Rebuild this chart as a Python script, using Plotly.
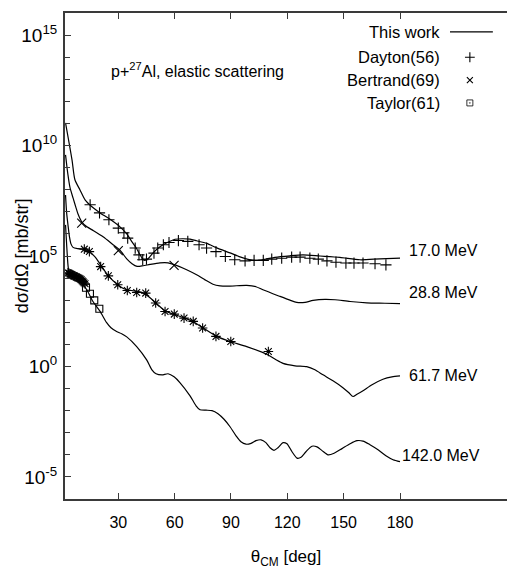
import numpy as np
import plotly.graph_objects as go

# ---------------- data (angle in deg, log10 of dσ/dΩ in mb/sr) ----------------
th_17 = [1.9, 5.35, 6.9, 9.6, 12.3, 15.8, 20.3, 25.6, 30.9, 34.5, 37.1, 39.8, 41.6, 43.7, 45.8,
         48.5, 52.2, 55.8, 60.2, 64.5, 68.2, 71.7, 77.1, 82.4, 89.5, 94.8, 99.1, 103.7, 108.1,
         113.4, 121.4, 128.3, 137.4, 148.0, 158.7, 169.3, 180.0]
lg_17 = [11.03, 9.35, 8.45, 7.99, 7.54, 7.24, 6.95, 6.66, 6.32, 6.00, 5.66, 5.33, 5.05, 4.81, 4.87,
         5.14, 5.42, 5.60, 5.76, 5.78, 5.76, 5.69, 5.57, 5.37, 5.14, 4.96, 4.85, 4.80, 4.85,
         4.94, 5.01, 5.05, 5.00, 4.94, 4.83, 4.87, 4.90]

th_28 = [1.9, 3.2, 4.3, 5.9, 7.5, 8.5, 10.5, 13.3, 16.5, 21.9, 27.2, 30.9, 34.5, 37.3, 40.0, 43.2,
         46.9, 52.2, 56.5, 60.2, 66.4, 71.7, 76.2, 80.4, 84.2, 89.5, 98.4, 103.3, 107.0, 116.1,
         121.4, 125.0, 129.4, 133.7, 140.1, 145.4, 153.4, 162.3, 172.0, 180.0]
lg_28 = [9.58, 8.67, 8.09, 7.63, 7.18, 6.91, 6.55, 6.32, 6.16, 5.87, 5.51, 5.26, 4.87, 4.65, 4.53, 4.56,
         4.62, 4.69, 4.69, 4.60, 4.38, 4.15, 3.92, 3.72, 3.65, 3.64, 3.67, 3.61, 3.47, 3.17,
         3.00, 2.90, 2.90, 2.99, 3.04, 3.02, 2.94, 2.88, 2.86, 2.84]

th_61 = [1.9, 2.5, 3.2, 4.0, 4.8, 5.9, 8.5, 11.9, 14.6, 17.6, 20.6, 24.7, 29.7, 33.0, 36.2, 40.0,
         43.2, 46.9, 50.4, 54.9, 60.2, 65.5, 69.9, 75.1, 82.4, 89.5, 98.4, 109.0, 114.0, 117.7,
         124.1, 130.3, 134.7, 139.0, 144.3, 149.6, 152.8, 155.0, 157.1, 160.3, 165.1, 170.9,
         175.7, 180.0]
lg_61 = [7.76, 6.95, 6.41, 5.87, 5.55, 5.39, 5.33, 5.30, 5.19, 4.96, 4.60, 4.10, 3.70, 3.52, 3.45, 3.40,
         3.33, 3.11, 2.84, 2.52, 2.34, 2.19, 2.02, 1.75, 1.36, 1.13, 0.90, 0.55, 0.30, 0.14,
         0.03, -0.01, -0.15, -0.38, -0.65, -0.96, -1.19, -1.36, -1.26, -1.10, -0.83, -0.58,
         -0.47, -0.43]

th_142 = [1.9, 2.5, 3.2, 3.7, 5.3, 7.5, 9.6, 13.2, 16.5, 20.3, 23.8, 26.1, 29.1, 31.8, 34.5, 39.8,
          45.1, 47.9, 50.1, 53.3, 56.5, 59.7, 62.9, 68.2, 71.4, 73.5, 76.7, 79.9, 83.1, 86.3,
          89.5, 92.7, 95.3, 98.0, 100.7, 103.3, 106.0, 108.6, 110.8, 112.9, 115.0, 117.7,
          119.8, 122.5, 125.2, 127.3, 129.9, 133.1, 135.8, 138.5, 141.7, 144.9, 149.1, 153.4,
          157.1, 160.3, 164.0, 168.3, 172.5, 176.3, 180.0]
lg_142 = [6.41, 5.51, 4.60, 4.29, 4.10, 4.01, 3.88, 3.47, 2.94, 2.49, 1.98, 1.75, 1.58, 1.48, 1.34, 0.90,
          0.30, -0.15, -0.33, -0.38, -0.33, -0.47, -0.74, -1.33, -1.78, -1.96, -1.98, -2.00, -2.14, -2.39,
          -2.73, -3.14, -3.41, -3.52, -3.48, -3.36, -3.32, -3.45, -3.68, -3.80, -3.68, -3.45,
          -3.50, -3.86, -4.15, -4.11, -3.86, -3.61, -3.64, -3.81, -4.00, -3.93, -3.72, -3.50,
          -3.36, -3.38, -3.54, -3.77, -4.04, -4.22, -4.31]

# Dayton(56), 17.0 MeV
dayton_th = [15, 20, 25, 30, 33, 35, 39, 41, 43, 45, 49, 51, 54, 57, 62, 67, 73, 77, 82, 87, 92,
             97.5, 102.3, 107.2, 111.7, 117, 122.3, 126.8, 132, 136.5, 141.1, 145.9, 151.2,
             155.5, 160.3, 166.7, 172.5]
dayton_lg = [7.32, 6.95, 6.64, 6.26, 6.05, 5.81, 5.36, 5.05, 4.83, 4.86, 5.13, 5.36, 5.51, 5.61,
             5.70, 5.66, 5.51, 5.36, 5.20, 4.98, 4.83, 4.78, 4.80, 4.80, 4.86, 4.90, 4.95, 4.95,
             4.90, 4.86, 4.78, 4.72, 4.68, 4.68, 4.68, 4.65, 4.60]

# Bertrand(69), 28.8 MeV
bertrand_th = [10.5, 30.0, 59.7]
bertrand_lg = [6.49, 5.24, 4.58]

# 61.7 MeV data (asterisks)
d61_th = [11.9, 14.6, 20.6, 24.7, 29.7, 34.8, 39.8, 44.6, 49.9, 54.9, 59.8, 65.0, 69.9, 74.9,
          82.0, 89.9, 109.9]
d61_lg = [5.31, 5.20, 4.52, 4.10, 3.70, 3.44, 3.35, 3.32, 2.87, 2.49, 2.37, 2.19, 2.04, 1.74,
          1.36, 1.13, 0.68]

# 142.0 MeV small-angle data (asterisks)
d142_th = [3.2, 3.8, 4.3, 4.8, 5.3, 5.9, 6.4, 6.9, 7.5, 8.0, 8.5, 9.1, 9.6, 10.2, 10.7, 11.2, 11.7, 12.3]
d142_lg = [4.24, 4.22, 4.19, 4.17, 4.15, 4.12, 4.10, 4.08, 4.06, 4.04, 4.01, 3.99, 3.97, 3.93, 3.88,
           3.84, 3.79, 3.74]

# Taylor(61), 142 MeV
taylor_th = [12.8, 14.9, 17.2, 19.9]
taylor_lg = [3.56, 3.29, 2.99, 2.61]

energies = ["17.0 MeV", "28.8 MeV", "61.7 MeV", "142.0 MeV"]
x_ticks = [30, 60, 90, 120, 150, 180]
y_label_exps = [-5, 0, 5, 10, 15]
y_minor_exps = list(range(-6, 17))

FONT = "Liberation Sans, Arial, sans-serif"


def v(lg):
    return [10.0 ** a for a in lg]


fig = go.Figure()

for th, lg in [(th_17, lg_17), (th_28, lg_28), (th_61, lg_61), (th_142, lg_142)]:
    fig.add_trace(go.Scatter(x=th, y=v(lg), mode="lines",
                             line=dict(color="black", width=1.2, shape="spline", smoothing=0.7),
                             showlegend=False, hoverinfo="skip"))

mk = dict(color="black", line=dict(color="black", width=1.1))
fig.add_trace(go.Scatter(x=dayton_th, y=v(dayton_lg), mode="markers", showlegend=False,
                         marker=dict(symbol="cross-thin-open", size=8, **mk)))
fig.add_trace(go.Scatter(x=bertrand_th, y=v(bertrand_lg), mode="markers", showlegend=False,
                         marker=dict(symbol="x-thin-open", size=9, **mk)))
fig.add_trace(go.Scatter(x=d61_th, y=v(d61_lg), mode="markers", showlegend=False,
                         marker=dict(symbol="asterisk-open", size=8, **mk)))
fig.add_trace(go.Scatter(x=d142_th, y=v(d142_lg), mode="markers", showlegend=False,
                         marker=dict(symbol="asterisk-open", size=8, **mk)))
fig.add_trace(go.Scatter(x=taylor_th, y=v(taylor_lg), mode="markers", showlegend=False,
                         marker=dict(symbol="square-open", size=7, **mk)))

# legend key markers on an overlay axis with [0,1] range (paper-like)
fig.add_trace(go.Scatter(x=[0.916], y=[0.909], mode="markers", xaxis="x2", yaxis="y2",
                         showlegend=False, marker=dict(symbol="cross-thin-open", size=7, **mk)))
fig.add_trace(go.Scatter(x=[0.916], y=[0.862], mode="markers", xaxis="x2", yaxis="y2",
                         showlegend=False, marker=dict(symbol="x-thin-open", size=6, **mk)))
fig.add_trace(go.Scatter(x=[0.916], y=[0.815], mode="markers", xaxis="x2", yaxis="y2",
                         showlegend=False, marker=dict(symbol="square-open-dot", size=6,
                                                       color="black", line=dict(color="black", width=0.8))))

y_tickvals = [10.0 ** e for e in y_label_exps]
y_ticktext = [f"10<sup>{e}</sup>" for e in y_label_exps]

axis_col = "#3a3a3a"
fig.update_layout(
    width=507, height=573,
    margin=dict(l=65, r=0, t=13, b=74),
    paper_bgcolor="white", plot_bgcolor="white",
    font=dict(family=FONT, size=16, color="black"),
    xaxis=dict(range=[1.62, 236.97], tickvals=x_ticks, ticks="inside", ticklen=6,
               tickcolor=axis_col, showline=True, linecolor=axis_col, linewidth=2,
               mirror="ticks", showgrid=False, zeroline=False,
               tickfont=dict(size=16), ticklabelstandoff=8,
               title=dict(text="θ<sub>CM</sub> [deg]", font=dict(size=17), standoff=20)),
    yaxis=dict(type="log", range=[-6, 16], tickvals=y_tickvals, ticktext=y_ticktext,
               ticks="inside", ticklen=6, tickcolor=axis_col, showline=True, linecolor=axis_col,
               linewidth=2, mirror=False, showgrid=False, zeroline=False,
               minor=dict(tickvals=[10.0 ** e for e in y_minor_exps], ticks="inside", ticklen=5,
                          tickcolor=axis_col),
               tickfont=dict(size=19), ticklabelstandoff=2),
    xaxis2=dict(overlaying="x", range=[0, 1], visible=False),
    yaxis2=dict(overlaying="y", range=[0, 1], visible=False),
)

# y-axis title placed as rotated text
fig.add_annotation(x=-0.097, y=0.5, xref="paper", yref="paper", text="dσ/dΩ [mb/str]",
                   textangle=-90, showarrow=False, xanchor="center", yanchor="middle",
                   font=dict(size=18))

# legend text and line sample
leg_y = [0.961, 0.909, 0.862, 0.815]
leg_txt = ["This work", "Dayton(56)", "Bertrand(69)", "Taylor(61)"]
for t, yy in zip(leg_txt, leg_y):
    fig.add_annotation(x=0.853, y=yy, xref="paper", yref="paper", text=t, showarrow=False,
                       xanchor="right", yanchor="middle", font=dict(size=16.5))
fig.add_shape(type="line", xref="paper", yref="paper", x0=0.871, x1=0.968, y0=0.961, y1=0.961,
              line=dict(color="black", width=1.2))

fig.add_annotation(x=0.1, y=0.882, xref="paper", yref="paper",
                   text="p+<sup>27</sup>Al, elastic scattering", showarrow=False,
                   xanchor="left", yanchor="middle", font=dict(size=16))

lab_x = [0.774, 0.774, 0.774, 0.758]
lab_y = [0.512, 0.424, 0.255, 0.0905]
for t, xx, yy in zip(energies, lab_x, lab_y):
    fig.add_annotation(x=xx, y=yy, xref="paper", yref="paper", text=t, showarrow=False,
                       xanchor="left", yanchor="middle", font=dict(size=16))

fig.write_html("out.html")
